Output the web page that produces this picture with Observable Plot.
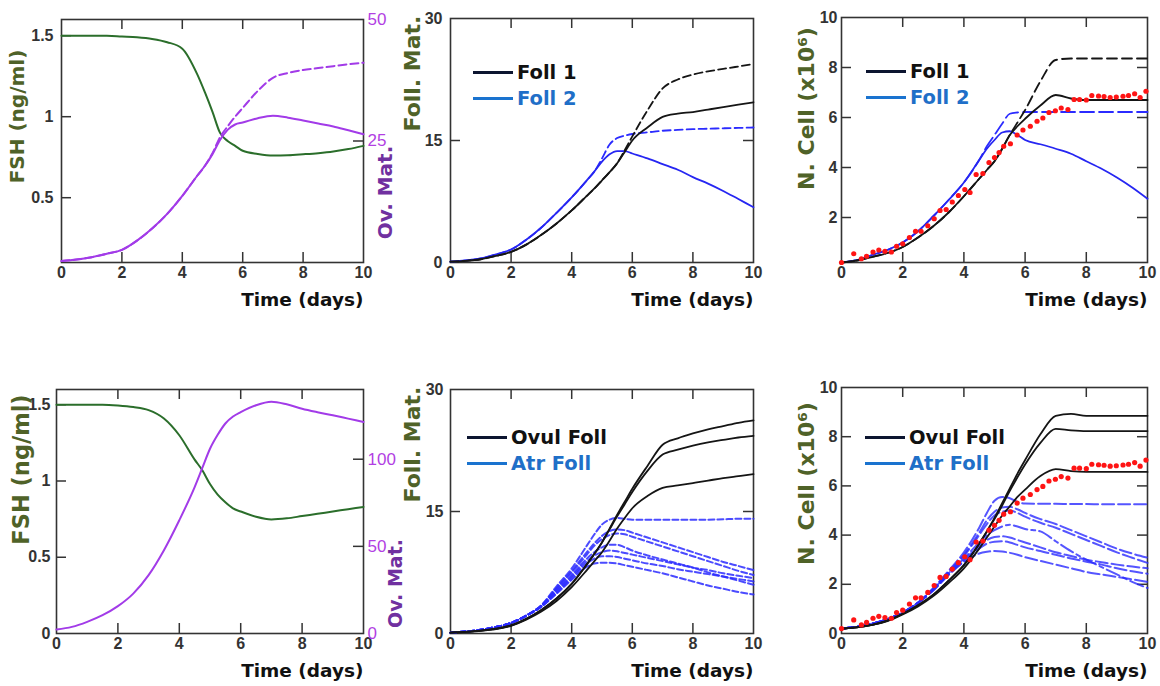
<!DOCTYPE html>
<html><head><meta charset="utf-8">
<script src="https://cdn.jsdelivr.net/npm/d3@7"></script>
<script src="https://cdn.jsdelivr.net/npm/@observablehq/plot@0.6"></script>
<style>
body{margin:0;background:#fff;}
#chart{position:relative;width:1160px;height:686px;overflow:hidden;background:#fff;}
#chart svg{position:absolute;overflow:visible;}
.lg{position:absolute;font-family:"DejaVu Sans";font-weight:bold;font-size:19.5px;line-height:1;white-space:nowrap;}
.lg span.sw{display:inline-block;width:40px;height:3px;vertical-align:middle;margin-right:4px;position:relative;top:-1px;}
</style></head><body><div id="chart"></div>
<script>
// ---------------- data ----------------
const T = [0,0.5,1,1.5,2,2.5,3,3.5,4,4.5,4.75,5,5.25,5.5,5.75,6,6.5,7,7.5,8,8.5,9,9.5,10];
const xTicks = [0,2,4,6,8,10];
const xInner = [2,4,6,8];

// panel 1 (top-left)
const fsh1   = [1.50,1.50,1.50,1.50,1.495,1.49,1.48,1.46,1.42,1.26,1.15,1.03,0.90,0.85,0.82,0.79,0.77,0.76,0.762,0.768,0.775,0.785,0.80,0.82];
const ov1    = [0.3,0.6,1.1,1.8,2.6,4.5,7.0,10.0,13.7,17.9,19.9,22.3,25.2,27.3,28.4,28.8,29.7,30.2,29.8,29.2,28.6,28.0,27.2,26.4];
const ov1max = [0.3,0.6,1.1,1.8,2.6,4.5,7.0,10.0,13.7,17.9,19.9,22.5,25.8,28.0,30.0,31.8,35.3,38.0,39.0,39.6,40.0,40.4,40.8,41.1];

// panel 2 (top-middle)
const f1max = [0.1,0.2,0.4,0.8,1.3,2.2,3.4,4.8,6.4,8.2,9.1,10.1,11.1,12.2,13.8,15.5,18.7,21.4,22.5,23.1,23.5,23.8,24.1,24.4];
const f1    = [0.1,0.2,0.4,0.8,1.3,2.2,3.4,4.8,6.4,8.2,9.1,10.1,11.1,12.2,13.6,15.0,16.6,17.9,18.3,18.5,18.8,19.1,19.4,19.7];
const f2max = [0.1,0.25,0.5,1.0,1.6,2.8,4.3,6.1,8.0,10.1,11.2,12.8,14.5,15.3,15.6,15.8,16.0,16.2,16.3,16.4,16.45,16.5,16.55,16.6];
const f2    = [0.1,0.25,0.5,1.0,1.6,2.8,4.3,6.1,8.0,10.1,11.2,12.4,13.3,13.7,13.7,13.4,12.8,12.1,11.4,10.5,9.7,8.8,7.8,6.8];

// panel 3 (top-right)
const n1max = [0.2,0.28,0.42,0.58,0.82,1.2,1.65,2.2,2.85,3.55,3.9,4.25,4.75,5.3,5.8,6.3,7.45,8.3,8.36,8.36,8.36,8.36,8.36,8.36];
const n1    = [0.2,0.28,0.42,0.58,0.82,1.2,1.65,2.2,2.85,3.55,3.9,4.25,4.75,5.3,5.65,5.95,6.48,6.9,6.76,6.7,6.7,6.7,6.7,6.7];
const n2max = [0.2,0.3,0.5,0.7,1.0,1.45,2.05,2.7,3.4,4.3,4.85,5.3,5.75,6.15,6.2,6.22,6.22,6.22,6.22,6.22,6.22,6.22,6.22,6.22];
const n2    = [0.2,0.3,0.5,0.7,1.0,1.45,2.05,2.7,3.4,4.3,4.75,5.1,5.4,5.45,5.3,5.1,4.93,4.75,4.55,4.25,3.95,3.6,3.2,2.75];

// measured cell numbers (red dots)
const dotT = [0,0.4,0.65,0.82,1.03,1.22,1.42,1.63,1.8,2.0,2.22,2.42,2.6,2.82,3.03,3.22,3.42,3.62,3.82,4.03,4.2,4.4,4.62,4.82,5.0,5.15,5.3,5.52,5.74,5.93,6.17,6.39,6.58,6.78,6.99,7.18,7.4,7.6,7.78,8.0,8.18,8.4,8.58,8.78,8.98,9.2,9.38,9.58,9.76,9.95];
const dotV = [0.2,0.55,0.35,0.45,0.62,0.7,0.65,0.62,0.85,0.95,1.2,1.45,1.45,1.67,1.95,2.28,2.32,2.62,2.88,3.12,3.0,3.72,3.76,4.2,4.4,4.6,4.85,4.95,5.3,5.5,5.65,5.85,5.98,6.2,6.27,6.38,6.32,6.72,6.72,6.7,6.88,6.86,6.84,6.8,6.82,6.85,6.88,6.95,6.8,7.05];

// panel 4 (bottom-left)
const fsh2 = [1.50,1.50,1.50,1.50,1.495,1.485,1.465,1.41,1.30,1.14,1.07,0.98,0.91,0.86,0.82,0.80,0.765,0.748,0.755,0.77,0.785,0.80,0.815,0.83];
const ov2  = [2.3,3.8,6.7,10.5,15.7,22.9,33.5,47.8,65,84,95,106,114,120.5,124.5,127,131,133,131.5,129,127,125.2,123.3,121.4];

// panel 5 (bottom-middle): ovulatory (black) and atretic (blue) follicles
const o5a = [0.1,0.2,0.35,0.6,1.0,1.8,2.9,4.3,6.1,8.5,9.8,11.2,12.9,14.6,16.2,17.8,20.6,23.2,24.0,24.6,25.1,25.5,25.9,26.2];
const o5b = [0.1,0.2,0.35,0.6,1.0,1.8,2.9,4.3,6.1,8.5,9.8,11.2,12.8,14.4,15.9,17.4,20.0,22.0,22.6,23.1,23.5,23.8,24.1,24.3];
const o5c = [0.1,0.2,0.33,0.55,0.95,1.7,2.7,4.0,5.7,7.8,8.9,10.0,11.4,12.9,14.2,15.4,16.9,17.9,18.2,18.5,18.8,19.1,19.35,19.6];
const a5a = [0.1,0.25,0.45,0.8,1.3,2.2,3.5,5.8,8.0,10.8,12.2,13.4,14.0,14.2,14.1,14.0,14.0,14.0,14.0,14.0,14.0,14.05,14.1,14.1];
const a5b = [0.1,0.25,0.45,0.8,1.3,2.2,3.45,5.6,7.7,10.0,11.1,12.0,12.6,12.8,12.7,12.4,11.8,11.2,10.6,10.0,9.4,8.8,8.3,7.8];
const a5c = [0.1,0.25,0.45,0.8,1.3,2.2,3.4,5.5,7.5,9.7,10.8,11.6,12.1,12.3,12.2,11.9,11.3,10.7,10.1,9.5,8.9,8.3,7.7,7.2];
const a5d = [0.1,0.25,0.45,0.8,1.3,2.2,3.4,5.3,7.2,9.2,10.0,10.6,10.9,10.9,10.6,10.2,9.6,9.1,8.6,8.1,7.5,7.0,6.5,6.0];
const a5e = [0.1,0.25,0.45,0.8,1.3,2.2,3.35,5.2,7.0,8.9,9.6,10.0,10.2,10.1,9.9,9.7,9.3,8.9,8.5,8.1,7.8,7.4,7.1,6.8];
const a5f = [0.1,0.25,0.45,0.8,1.3,2.2,3.3,5.0,6.8,8.6,9.2,9.5,9.5,9.4,9.2,9.0,8.6,8.3,7.9,7.6,7.3,7.0,6.7,6.4];
const a5g = [0.1,0.25,0.45,0.8,1.3,2.2,3.3,4.9,6.6,8.2,8.6,8.7,8.7,8.6,8.4,8.2,7.8,7.4,6.9,6.4,5.9,5.5,5.1,4.8];

// panel 6 (bottom-right)
const c6a = [0.2,0.25,0.35,0.52,0.8,1.15,1.58,2.15,2.78,3.65,4.15,4.7,5.3,5.9,6.5,7.05,8.1,8.85,8.93,8.85,8.85,8.85,8.85,8.85];
const c6b = [0.2,0.25,0.35,0.52,0.8,1.15,1.58,2.15,2.78,3.65,4.15,4.65,5.2,5.8,6.35,6.87,7.75,8.32,8.26,8.23,8.23,8.23,8.23,8.23];
const c6c = [0.2,0.25,0.35,0.5,0.77,1.1,1.52,2.05,2.65,3.45,3.9,4.35,4.8,5.17,5.55,5.85,6.4,6.68,6.6,6.57,6.57,6.57,6.57,6.57];
const b6a = [0.2,0.27,0.4,0.58,0.85,1.25,1.85,2.55,3.3,4.3,4.9,5.4,5.55,5.5,5.35,5.28,5.27,5.27,5.26,5.26,5.25,5.25,5.25,5.25];
const b6b = [0.2,0.27,0.4,0.58,0.85,1.25,1.82,2.5,3.2,4.1,4.6,4.95,5.12,5.15,5.05,4.9,4.65,4.45,4.2,3.95,3.7,3.45,3.25,3.08];
const b6c = [0.2,0.27,0.4,0.58,0.85,1.25,1.8,2.48,3.15,4.0,4.45,4.8,4.95,5.0,4.9,4.75,4.5,4.3,4.05,3.8,3.55,3.3,3.08,2.87];
const b6d = [0.2,0.27,0.4,0.58,0.85,1.25,1.8,2.45,3.05,3.7,4.0,4.2,4.35,4.42,4.35,4.25,4.15,3.75,3.35,3.0,2.7,2.4,2.1,1.85];
const b6e = [0.2,0.27,0.4,0.58,0.85,1.25,1.78,2.42,3.0,3.55,3.8,3.92,3.95,3.9,3.8,3.7,3.5,3.3,3.15,3.0,2.9,2.8,2.72,2.65];
const b6f = [0.2,0.27,0.4,0.58,0.85,1.25,1.76,2.4,2.95,3.45,3.65,3.73,3.75,3.7,3.6,3.5,3.35,3.2,3.05,2.92,2.8,2.65,2.53,2.43];
const b6g = [0.2,0.27,0.4,0.58,0.85,1.25,1.75,2.38,2.9,3.25,3.32,3.35,3.33,3.28,3.2,3.1,2.95,2.8,2.65,2.5,2.4,2.3,2.2,2.1];

const legendTop = ["Foll 1","Foll 2"];
const legendBottom = ["Ovul Foll","Atr Foll"];

// ---------------- styles ----------------
const GREEN = "#2b6e2b", PURPLE = "#a23be8", OLIVE = "#4f6228", OVLAB = "#7030a0", RTICK = "#b23fe3";
const BLACK = "#151515", BLUE = "#2626f2", BLUED = "#2b2bff", RED = "#ff1414";
const tickFont = {fontFamily:"Liberation Sans", fontWeight:"bold", fontSize:16, color:"#333"};
const labFont = {fontFamily:"DejaVu Sans", fontWeight:"bold"};
const M = {l:50, r:40, t:15, b:50};
const chart = document.getElementById("chart");

function panel(frame, yDomain, marks) {
  const [x0,x1,y0,y1] = frame;
  const p = Plot.plot({
    width: x1-x0+M.l+M.r, height: y1-y0+M.t+M.b,
    marginLeft:M.l, marginRight:M.r, marginTop:M.t, marginBottom:M.b,
    x:{domain:[0,10], axis:null}, y:{domain:yDomain, axis:null},
    style:{background:"transparent", overflow:"visible"},
    marks: marks.flat()
  });
  p.style.position = "absolute";
  p.style.left = (x0-M.l)+"px"; p.style.top = (y0-M.t)+"px";
  chart.append(p);
}
function box(frame, yInner, yLabels, pad, rightTicks=true) {
  const w = frame[1]-frame[0], h = frame[3]-frame[2];
  const ts = {stroke:"#333", strokeWidth:1.5};
  const m = [
    Plot.frame({stroke:"#333", strokeWidth:1.6}),
    Plot.tickX(xInner, {x:d=>d, insetTop:h-10, ...ts}),
    Plot.tickX(xInner, {x:d=>d, insetBottom:h-10, ...ts}),
    Plot.tickY(yInner, {y:d=>d, insetRight:w-10, ...ts}),
    Plot.axisX({ticks:xTicks, tickSize:0, tickPadding:4, label:null, tickFormat:d=>String(d), ...tickFont}),
    Plot.axisY({anchor:"left", ticks:yLabels, tickSize:0, tickPadding:pad, label:null, tickFormat:d=>String(d), ...tickFont}),
    Plot.text(["Time (days)"], {text:d=>d, frameAnchor:"bottom-right", textAnchor:"end", lineAnchor:"middle", dy:38, fontSize:18.5, fill:"#111", ...labFont})
  ];
  if (rightTicks) m.push(Plot.tickY(yInner, {y:d=>d, insetLeft:w-10, ...ts}));
  return m;
}
const ln = (arr, stroke, extra={}) => Plot.lineY(arr, {x:T, stroke, strokeWidth:1.8, curve:"monotone-x", ...extra});
const ylab = (s, dx, dy, size, fill=OLIVE) => Plot.text([s], {text:d=>d, frameAnchor:"left", textAnchor:"middle", lineAnchor:"middle", dx, dy, rotate:-90, fontSize:size, fill, ...labFont});
const rlab = (s, dx, dy, size) => Plot.text([s], {text:d=>d, frameAnchor:"right", textAnchor:"middle", lineAnchor:"middle", dx, dy, rotate:-90, fontSize:size, fill:OVLAB, ...labFont});
const redDots = () => Plot.dot(dotV, {x:dotT, y:d=>d, r:2.6, fill:RED, stroke:null});

function legend(x, y, names) {
  const tc = ["#111","#1f6fc8"], lc = ["#0c1530","#1a73cf"];
  names.forEach((n,i) => {
    const d = document.createElement("div");
    d.className = "lg";
    d.style.left = x+"px"; d.style.top = (y + i*26 - 10)+"px"; d.style.color = tc[i];
    d.innerHTML = `<span class="sw" style="background:${lc[i]}"></span>${n}`;
    chart.append(d);
  });
}

// ---------------- panel 1 ----------------
const F1 = [61,363,19,262];
panel(F1, [0.1,1.6], [
  box(F1, [0.5,1,1.5], [0.5,1,1.5], 8, false),
  ylab("FSH (ng/ml)", -44, -24.5, 20),
  ln(fsh1, GREEN, {strokeWidth:2})
]);
panel(F1, [0,50], [
  Plot.tickY([25], {y:d=>d, insetLeft:F1[1]-F1[0]-10, stroke:"#333", strokeWidth:1.5}),
  Plot.axisY({anchor:"right", ticks:[25,50], tickSize:0, tickPadding:4, label:null, tickFormat:d=>String(d), fontFamily:"Liberation Sans", fontSize:17, color:RTICK}),
  rlab("Ov. Mat.", 22, 51.5, 20),
  ln(ov1max, PURPLE, {strokeWidth:2, strokeDasharray:"8,4"}),
  ln(ov1, PURPLE, {strokeWidth:2})
]);

// ---------------- panel 2 ----------------
const F2 = [450,753,18,262];
panel(F2, [0,30], [
  box(F2, [15], [0,15,30], 8),
  ylab("Foll. Mat.", -38, -67, 22),
  ln(f2max, BLUED, {strokeDasharray:"8,4"}),
  ln(f2, BLUE),
  ln(f1max, BLACK, {strokeDasharray:"8,4"}),
  ln(f1, BLACK)
]);
legend(473, 73, legendTop);

// ---------------- panel 3 ----------------
const F3 = [841,1147,17,262];
panel(F3, [0.2,10], [
  box(F3, [2,4,6,8], [2,4,6,8,10], 4),
  ylab("N. Cell (x10⁶)", -35, -31.5, 22),
  ln(n2max, BLUED, {strokeDasharray:"14,5"}),
  ln(n2, BLUE),
  ln(n1max, BLACK, {strokeDasharray:"10,5"}),
  ln(n1, BLACK),
  redDots()
]);
legend(866, 72, legendTop);

// ---------------- panel 4 ----------------
const F4 = [56,363,389,633];
panel(F4, [0,1.6], [
  box(F4, [0.5,1,1.5], [0,0.5,1,1.5], 6, false),
  ylab("FSH (ng/ml)", -35, -42, 22.5),
  ln(fsh2, GREEN, {strokeWidth:2})
]);
panel(F4, [0,140], [
  Plot.tickY([50,100], {y:d=>d, insetLeft:F4[1]-F4[0]-10, stroke:"#333", strokeWidth:1.5}),
  Plot.axisY({anchor:"right", ticks:[0,50,100], tickSize:0, tickPadding:4, label:null, tickFormat:d=>String(d), fontFamily:"Liberation Sans", fontSize:17, color:RTICK}),
  rlab("Ov. Mat.", 32, 72, 19),
  ln(ov2, PURPLE, {strokeWidth:2})
]);

// ---------------- panel 5 ----------------
const F5 = [450,753,389,633];
const dash5 = {strokeDasharray:"6,3", strokeOpacity:0.85, strokeWidth:2};
panel(F5, [0,30], [
  box(F5, [15], [0,15,30], 7),
  ylab("Foll. Mat.", -38, -67, 22),
  [a5a,a5b,a5c,a5d,a5e,a5f,a5g].map(a => ln(a, BLUED, dash5)),
  [o5a,o5b,o5c].map(a => ln(a, BLACK))
]);
legend(467, 438, legendBottom);

// ---------------- panel 6 ----------------
const F6 = [841,1147,387,633];
const dash6 = {strokeDasharray:"12,4", strokeOpacity:0.8, strokeWidth:2};
panel(F6, [0,10], [
  box(F6, [2,4,6,8], [0,2,4,6,8,10], 4),
  ylab("N. Cell (x10⁶)", -35, -27, 22),
  [b6a,b6b,b6c,b6e,b6f,b6g].map(a => ln(a, BLUED, dash6)),
  ln(b6d, BLUED, {strokeDasharray:"14,4,4,4", strokeOpacity:0.8, strokeWidth:2}),
  [c6a,c6b,c6c].map(a => ln(a, BLACK)),
  redDots()
]);
legend(865, 438, legendBottom);
</script></body></html>
